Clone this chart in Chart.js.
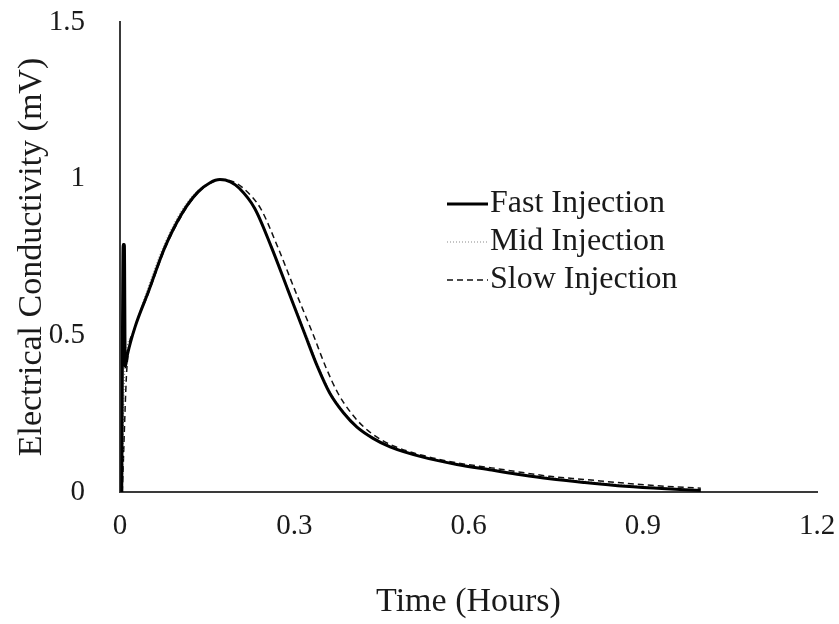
<!DOCTYPE html>
<html>
<head>
<meta charset="utf-8">
<script src="https://cdn.jsdelivr.net/npm/chart.js@4/dist/chart.umd.min.js"></script>
<style>
  body { margin: 0; background: #fff; }
  #wrap { width: 839px; height: 624px; }
</style>
</head>
<body>
<div id="wrap"><canvas id="ecChart" width="839" height="624"></canvas></div>
<script>
// values (time in hours, conductivity in mV)
var fastTime = [0.003, 0.0055, 0.0075, 0.009, 0.013, 0.026, 0.048, 0.077, 0.107, 0.134, 0.155, 0.172, 0.19, 0.205, 0.232, 0.261, 0.289, 0.318, 0.34, 0.361, 0.385, 0.408, 0.435, 0.465, 0.52, 0.58, 0.64, 0.69, 0.74, 0.8, 0.87, 0.94, 1.0];
var fastValue = [0.0, 0.79, 0.79, 0.40, 0.44, 0.527, 0.635, 0.78, 0.89, 0.957, 0.987, 0.997, 0.99, 0.97, 0.905, 0.78, 0.645, 0.505, 0.40, 0.316, 0.252, 0.207, 0.172, 0.144, 0.112, 0.088, 0.07, 0.055, 0.042, 0.03, 0.018, 0.01, 0.005];

var midTime = [0.004, 0.008, 0.02, 0.045, 0.075, 0.105, 0.133, 0.155, 0.172, 0.19, 0.205, 0.232, 0.262, 0.29, 0.32, 0.342, 0.363, 0.387, 0.41, 0.437, 0.467, 0.52, 0.58, 0.64, 0.69, 0.74, 0.8, 0.87, 0.94, 1.0];
var midValue = [0.0, 0.38, 0.5, 0.635, 0.785, 0.895, 0.96, 0.988, 0.997, 0.99, 0.97, 0.905, 0.78, 0.645, 0.505, 0.40, 0.316, 0.252, 0.207, 0.172, 0.144, 0.113, 0.09, 0.073, 0.058, 0.046, 0.034, 0.022, 0.013, 0.007];

var slowTime = [0.004, 0.012, 0.025, 0.048, 0.077, 0.107, 0.134, 0.157, 0.176, 0.195, 0.212, 0.242, 0.272, 0.301, 0.332, 0.354, 0.375, 0.398, 0.42, 0.445, 0.472, 0.525, 0.58, 0.64, 0.69, 0.74, 0.8, 0.87, 0.94, 1.0];
var slowValue = [0.0, 0.40, 0.52, 0.63, 0.775, 0.885, 0.955, 0.987, 0.997, 0.99, 0.97, 0.905, 0.78, 0.645, 0.505, 0.40, 0.316, 0.252, 0.207, 0.172, 0.146, 0.115, 0.093, 0.077, 0.063, 0.05, 0.04, 0.028, 0.018, 0.012];

var seriesNames = ["Fast Injection", "Mid Injection", "Slow Injection"];
var xTicks = [0, 0.3, 0.6, 0.9, 1.2];
var yTicks = [0, 0.5, 1, 1.5];

function toPoints(times, values) {
  return times.map(function(t, i) { return {x: t, y: values[i]}; });
}

var serif = "'Liberation Serif', 'Times New Roman', serif";

// legend drawn inside the plot like the original
var insideLegend = {
  id: "insideLegend",
  afterDraw: function(chart) {
    var ctx = chart.ctx;
    var x0 = 447, x1 = 488, rowY = [204, 242, 280];
    ctx.save();
    chart.data.datasets.forEach(function(ds, i) {
      ctx.beginPath();
      ctx.strokeStyle = ds.borderColor;
      ctx.lineWidth = ds.borderWidth;
      ctx.setLineDash(ds.borderDash || []);
      ctx.moveTo(x0, rowY[i]);
      ctx.lineTo(x1, rowY[i]);
      ctx.stroke();
      ctx.setLineDash([]);
      ctx.fillStyle = "#1a1a1a";
      ctx.font = "32px " + serif;
      ctx.textBaseline = "middle";
      ctx.fillText(ds.label, x1 + 2, rowY[i]);
    });
    ctx.restore();
  }
};

var chart = new Chart("ecChart", {
  type: "scatter",
  data: {
    datasets: [{
        label: seriesNames[0],
        data: toPoints(fastTime, fastValue),
        borderColor: "#000000",
        borderWidth: 3,
        borderJoinStyle: "round",
        showLine: true,
        pointRadius: 0,
        cubicInterpolationMode: "monotone"
    }, {
        label: seriesNames[1],
        data: toPoints(midTime, midValue),
        borderColor: "#8a8a8a",
        borderWidth: 1.2,
        borderDash: [1, 2],
        showLine: true,
        pointRadius: 0,
        cubicInterpolationMode: "monotone"
    }, {
        label: seriesNames[2],
        data: toPoints(slowTime, slowValue),
        borderColor: "#111111",
        borderWidth: 1.5,
        borderDash: [6, 4],
        showLine: true,
        pointRadius: 0,
        cubicInterpolationMode: "monotone"
    }]
  },
  options: {
    responsive: false,
    animation: false,
    layout: {padding: {top: 22, right: 22, left: 0, bottom: 0}},
    plugins: {legend: {display: false}, tooltip: {enabled: false}},
    scales: {
      x: {
        type: "linear",
        min: 0, max: 1.2,
        afterBuildTicks: function(scale) {
          scale.ticks = xTicks.map(function(v) { return {value: v}; });
        },
        afterFit: function(scale) {
          scale.height = 132;
          scale.paddingLeft = 0;
          scale.paddingRight = 0;
        },
        grid: {display: false, drawTicks: false},
        border: {display: true, color: "#3a3a3a", width: 2},
        ticks: {
          padding: 17,
          color: "#1a1a1a",
          font: {family: serif, size: 29},
          callback: function(v) { return String(+v.toFixed(1)); }
        },
        title: {
          display: true,
          text: "Time (Hours)",
          color: "#1a1a1a",
          font: {family: serif, size: 34},
          padding: {top: 0, bottom: 2}
        }
      },
      y: {
        type: "linear",
        min: 0, max: 1.5,
        afterBuildTicks: function(scale) {
          scale.ticks = yTicks.map(function(v) { return {value: v}; });
        },
        afterFit: function(scale) {
          scale.width = 120;
          scale.paddingTop = 0;
          scale.paddingBottom = 0;
        },
        grid: {display: false, drawTicks: false},
        border: {display: true, color: "#3a3a3a", width: 2},
        ticks: {
          padding: 35,
          color: "#1a1a1a",
          font: {family: serif, size: 29},
          callback: function(v) { return String(+v.toFixed(1)); }
        },
        title: {
          display: true,
          text: "Electrical Conductivity (mV)",
          color: "#1a1a1a",
          font: {family: serif, size: 34},
          padding: {top: 12, bottom: 0}
        }
      }
    }
  },
  plugins: [insideLegend]
});
</script>
</body>
</html>
